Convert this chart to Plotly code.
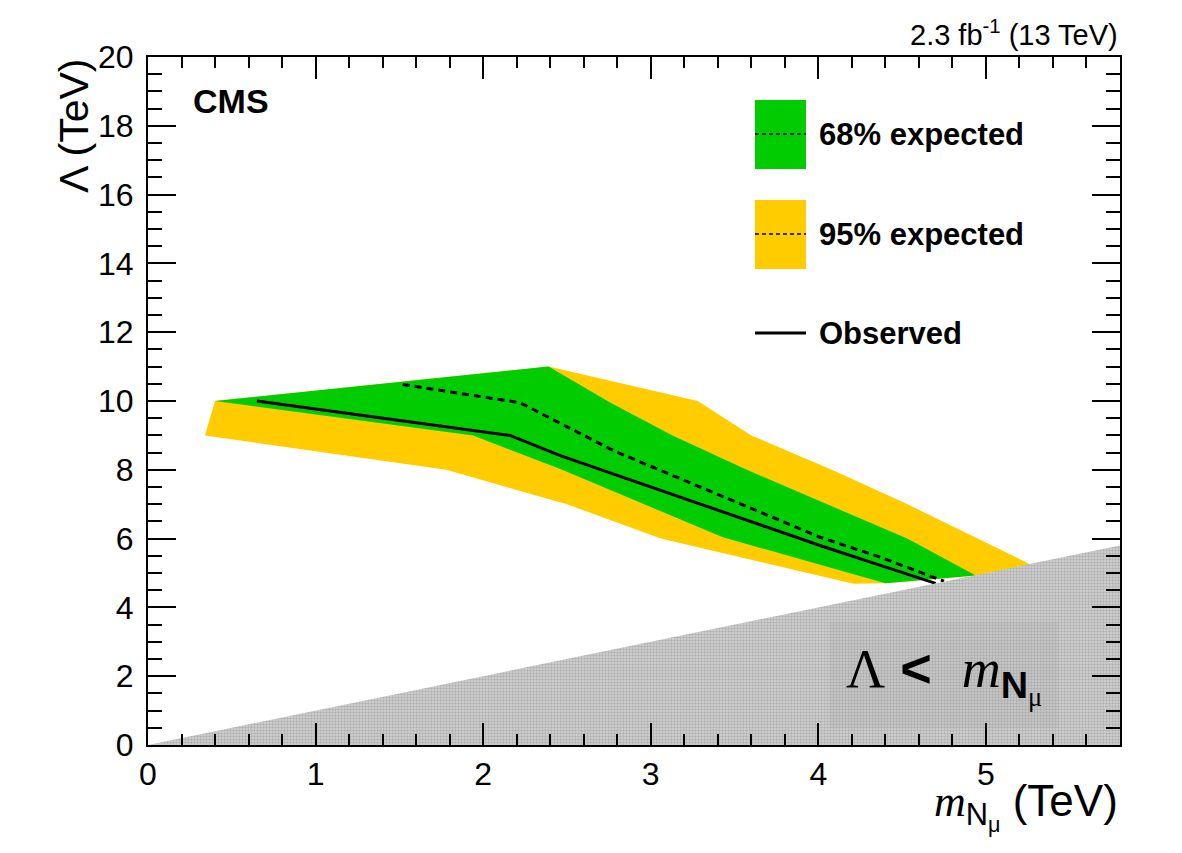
import plotly.graph_objects as go

# ---- data ----
band95_upper_x = [0.40, 2.39, 3.28, 3.60, 4.08, 4.51, 5.30]
band95_upper_y = [10.0, 11.0, 10.0, 9.0, 8.0, 7.05, 5.17]
band95_lower_x = [0.34, 1.78, 2.50, 3.06, 4.21, 4.40, 4.94, 5.30]
band95_lower_y = [9.0, 8.0, 7.0, 6.0, 4.69, 4.70, 4.93, 5.17]

band68_upper_x = [0.40, 2.39, 2.76, 3.13, 3.55, 4.05, 4.53, 4.94]
band68_upper_y = [10.0, 11.0, 9.95, 9.0, 8.05, 7.0, 6.0, 4.93]
band68_lower_x = [0.40, 1.94, 2.46, 3.43, 4.40, 4.94]
band68_lower_y = [10.0, 9.0, 8.02, 6.04, 4.70, 4.93]

observed_x = [0.65, 2.16, 2.46, 3.30, 4.01, 4.37, 4.70]
observed_y = [10.0, 9.0, 8.41, 7.00, 5.80, 5.22, 4.70]

expected_x = [1.52, 2.22, 2.78, 3.40, 4.01, 4.37, 4.75]
expected_y = [10.48, 9.95, 8.55, 7.28, 6.04, 5.46, 4.76]

excluded_x = [0.0, 5.8, 5.8]
excluded_y = [0.0, 5.8, 0.0]

x_range = [0, 5.8]
y_range = [0, 20]

GREEN = "#00cc00"
YELLOW = "#ffcc00"
SANS = "Liberation Sans, Arial, sans-serif"
SERIF = "Liberation Serif, Times New Roman, serif"


def polygon(ux, uy, lx, ly):
    return list(ux) + list(reversed(lx)), list(uy) + list(reversed(ly))


fig = go.Figure()

px95, py95 = polygon(band95_upper_x, band95_upper_y, band95_lower_x, band95_lower_y)
fig.add_trace(go.Scatter(x=px95, y=py95, fill="toself", fillcolor=YELLOW,
                         line=dict(width=0, color=YELLOW), mode="lines",
                         hoverinfo="skip", showlegend=False))
px68, py68 = polygon(band68_upper_x, band68_upper_y, band68_lower_x, band68_lower_y)
fig.add_trace(go.Scatter(x=px68, y=py68, fill="toself", fillcolor=GREEN,
                         line=dict(width=0, color=GREEN), mode="lines",
                         hoverinfo="skip", showlegend=False))
fig.add_trace(go.Scatter(x=expected_x, y=expected_y, mode="lines",
                         line=dict(color="black", width=3, dash="7px,5px"),
                         showlegend=False))
fig.add_trace(go.Scatter(x=observed_x, y=observed_y, mode="lines",
                         line=dict(color="black", width=3),
                         showlegend=False))
fig.add_trace(go.Scatter(x=excluded_x, y=excluded_y, fill="toself",
                         fillcolor="#c8c8c8", mode="lines",
                         line=dict(width=0, color="#c0c0c0"),
                         fillpattern=dict(shape=".", fgcolor="#8c8c8c",
                                          bgcolor="#d4d4d4", size=3, solidity=0.5),
                         hoverinfo="skip", showlegend=False))

# ---- legend drawn by hand ----
def px2paper_x(px):
    return (px - 148) / 972.0


def px2paper_y(py):
    return (745 - py) / 688.0


shapes = []
anns = []
lx0, lx1 = px2paper_x(755), px2paper_x(806)
for color, top, bot, mid, label in [(GREEN, 100, 169, 134, "68% expected"),
                                     (YELLOW, 200, 269, 234, "95% expected")]:
    shapes.append(dict(type="rect", xref="paper", yref="paper",
                       x0=lx0, x1=lx1, y0=px2paper_y(bot), y1=px2paper_y(top),
                       fillcolor=color, line=dict(width=0), layer="above"))
    shapes.append(dict(type="line", xref="paper", yref="paper",
                       x0=lx0, x1=lx1, y0=px2paper_y(mid), y1=px2paper_y(mid),
                       line=dict(color="black", width=1.5, dash="4px,3px"), layer="above"))
    anns.append(dict(xref="paper", yref="paper", x=px2paper_x(817), y=px2paper_y(mid),
                     xanchor="left", yanchor="middle", showarrow=False,
                     text="<b>%s</b>" % label,
                     font=dict(family=SANS, size=31, color="black")))
shapes.append(dict(type="line", xref="paper", yref="paper",
                   x0=lx0, x1=lx1, y0=px2paper_y(333), y1=px2paper_y(333),
                   line=dict(color="black", width=3), layer="above"))
anns.append(dict(xref="paper", yref="paper", x=px2paper_x(817), y=px2paper_y(333),
                 xanchor="left", yanchor="middle", showarrow=False,
                 text="<b>Observed</b>", font=dict(family=SANS, size=31, color="black")))

# CMS label
anns.append(dict(xref="paper", yref="paper", x=px2paper_x(191), y=px2paper_y(101),
                 xanchor="left", yanchor="middle", showarrow=False,
                 text="<b>CMS</b>", font=dict(family=SANS, size=34, color="black")))
# lumi label
anns.append(dict(xref="paper", yref="paper", x=1.0, y=px2paper_y(33),
                 xanchor="right", yanchor="middle", showarrow=False,
                 text="2.3 fb<sup>-1</sup> (13 TeV)",
                 font=dict(family=SANS, size=29, color="black")))
# y title
anns.append(dict(xref="paper", yref="paper", x=px2paper_x(74), y=1.0,
                 xanchor="center", yanchor="top", showarrow=False, textangle=-90,
                 text="Λ (TeV)", font=dict(family=SANS, size=41, color="black")))
# x title
anns.append(dict(xref="paper", yref="paper", x=1.0, y=px2paper_y(806),
                 xanchor="right", yanchor="middle", showarrow=False,
                 text="<i style='font-family:Liberation Serif'>m</i><sub>N<sub>μ</sub></sub> (TeV)",
                 font=dict(family=SANS, size=44, color="black")))
# excluded region label
anns.append(dict(xref="paper", yref="paper", x=px2paper_x(944), y=px2paper_y(675),
                 xanchor="center", yanchor="middle", showarrow=False,
                 bgcolor="rgba(140,140,140,0.10)", borderpad=16,
                 text="<span style='font-family:Liberation Serif'>Λ</span> <b>&lt;</b>  "
                      "<i style='font-family:Liberation Serif'>m</i><sub><b>N</b>"
                      "<sub><span style='font-family:Liberation Serif'>μ</span></sub></sub>",
                 font=dict(family=SANS, size=54, color="black")))

axis_common = dict(showline=True, linecolor="black", linewidth=2, mirror="allticks",
                   ticks="inside", tickcolor="black", tickwidth=2,
                   showgrid=False, zeroline=False,
                   tickfont=dict(family=SANS, size=32, color="black"))

fig.update_layout(
    width=1182, height=853,
    margin=dict(l=148, r=62, t=57, b=108),
    paper_bgcolor="white", plot_bgcolor="white",
    showlegend=False,
    shapes=shapes, annotations=anns,
    xaxis=dict(range=x_range, dtick=1, ticklen=22,
               minor=dict(dtick=0.2, ticklen=11, tickcolor="black", tickwidth=2, ticks="inside"),
               **axis_common),
    yaxis=dict(range=y_range, dtick=2, ticklen=28, ticklabelstandoff=6,
               minor=dict(dtick=0.5, ticklen=14, tickcolor="black", tickwidth=2, ticks="inside"),
               **axis_common),
)

fig.write_html("out.html")
